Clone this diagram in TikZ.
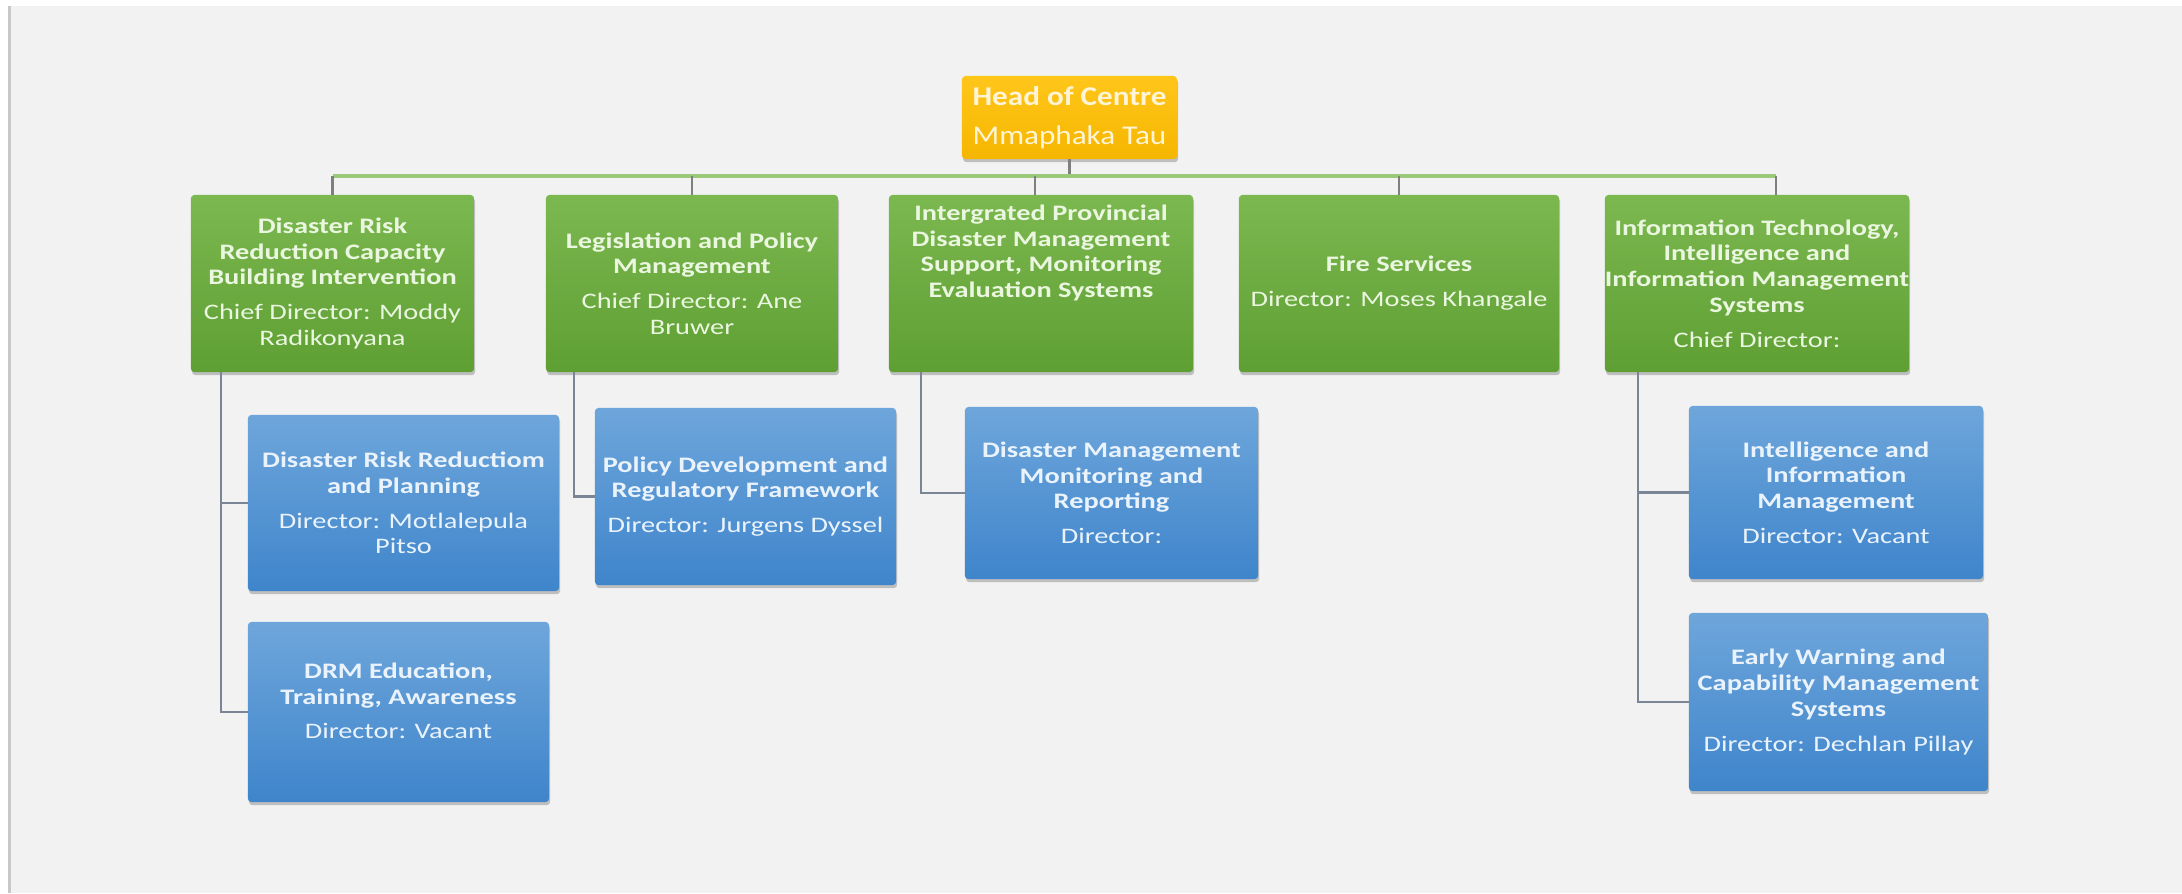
\documentclass[tikz,border=0pt]{standalone}
\usepackage{fontspec}
\setmainfont{Carlito}
\newfontfamily\boxfont{Carlito}[FakeStretch=1.28]
\newfontfamily\headfont{Carlito}[FakeStretch=1.15]
\usetikzlibrary{shadows}
\definecolor{paper}{HTML}{F2F2F2}
\definecolor{frame}{HTML}{C8C8C8}
\definecolor{greentop}{HTML}{7CB850}
\definecolor{greenbot}{HTML}{5E9F33}
\definecolor{greentext}{HTML}{EAF6DF}
\definecolor{bluetop}{HTML}{6EA6DB}
\definecolor{bluebot}{HTML}{3F85CB}
\definecolor{bluetext}{HTML}{EAF3FC}
\definecolor{headtop}{HTML}{FFC61A}
\definecolor{headbot}{HTML}{F5B600}
\definecolor{headtext}{HTML}{FFF5D6}
\definecolor{busgreen}{HTML}{9BC97A}
\definecolor{stubgrey}{HTML}{7F7F7F}
\definecolor{branchgrey}{HTML}{7A8696}
\newcommand{\staff}[1]{{\mdseries #1}}
\tikzset{
	box/.style={rounded corners=1pt, align=center, inner sep=0pt, outer sep=0pt,
		drop shadow={shadow xshift=0.3pt, shadow yshift=-0.9pt, opacity=0.45, fill=black!50}},
	headbox/.style={box, top color=headtop, bottom color=headbot, text=headtext,
		font=\headfont\fontsize{7.7}{11}\selectfont\bfseries},
	unitbox/.style={box, top color=greentop, bottom color=greenbot, text=greentext,
		font=\boxfont\fontsize{6.3}{7.3}\selectfont\bfseries, minimum height=1.77cm},
	subbox/.style={box, top color=bluetop, bottom color=bluebot, text=bluetext,
		font=\boxfont\fontsize{6.3}{7.3}\selectfont\bfseries},
	bus/.style={draw=busgreen, line width=0.9pt},
	stub/.style={draw=stubgrey, line width=0.8pt},
	branch/.style={draw=branchgrey, line width=0.8pt},
}
\begin{document}
\begin{tikzpicture}[x=0.01cm, y=-0.01cm]
	\useasboundingbox (0,0) rectangle (2182,893);
	%background
	\fill[white] (0,0) rectangle (2182,893);
	\fill[paper] (10,6) rectangle (2182,893);
	\draw[frame, line width=0.8pt] (9.5,6) -- (9.5,893);

	%HEAD
	\node[headbox, minimum width=2.15cm, minimum height=0.83cm] (head) at (1069.5,117.5)
		{Head of Centre\\ \staff{Mmaphaka Tau}};

	%CHIEF DIRECTORATES
	\node[unitbox, minimum width=2.83cm] (g1) at (332.5,283.5)
		{Disaster Risk\\ Reduction Capacity\\ Building Intervention\\[2.6pt]
		 \staff{Chief Director: Moddy}\\ \staff{Radikonyana}};
	\node[unitbox, minimum width=2.92cm] (g2) at (692,283.5)
		{Legislation and Policy\\ Management\\[2.6pt]
		 \staff{Chief Director: Ane}\\ \staff{Bruwer}};
	\node[unitbox, minimum width=3.04cm] (g3) at (1041,283.5)
		{Intergrated Provincial\\ Disaster Management\\ Support, Monitoring\\ Evaluation Systems\\[11pt] \mbox{}};
	\node[unitbox, minimum width=3.20cm] (g4) at (1399,283.5)
		{Fire Services\\[2.6pt] \staff{Director: Moses Khangale}};
	\node[unitbox, minimum width=3.04cm] (g5) at (1757,283.5)
		{Information Technology,\\ Intelligence and\\ Information Management\\ Systems\\[2.6pt]
		 \staff{Chief Director:}};

	%DIRECTORATES
	\node[subbox, minimum width=3.11cm, minimum height=1.76cm] (b1) at (403.5,503)
		{Disaster Risk Reductiom\\ and Planning\\[2.6pt]
		 \staff{Director: Motlalepula}\\ \staff{Pitso}};
	\node[subbox, minimum width=3.01cm, minimum height=1.80cm] (b2) at (398.5,712)
		{DRM Education,\\ Training, Awareness\\[2.6pt] \staff{Director: Vacant}\\[-1pt] \mbox{}};
	\node[subbox, minimum width=3.01cm, minimum height=1.77cm] (b3) at (745.5,496.5)
		{Policy Development and\\ Regulatory Framework\\[2.6pt] \staff{Director: Jurgens Dyssel}};
	\node[subbox, minimum width=2.93cm, minimum height=1.72cm] (b4) at (1111.5,493)
		{Disaster Management\\ Monitoring and\\ Reporting\\[2.6pt] \staff{Director:}};
	\node[subbox, minimum width=2.94cm, minimum height=1.73cm] (b5) at (1836,492.5)
		{Intelligence and\\ Information\\ Management\\[2.6pt] \staff{Director: Vacant}};
	\node[subbox, minimum width=2.99cm, minimum height=1.78cm] (b6) at (1838.5,702)
		{Early Warning and\\ Capability Management\\ Systems\\[2.6pt] \staff{Director: Dechlan Pillay}};

	%LINKS
	\coordinate (bus) at (1069.5,176);
	\coordinate (d3) at (1035,176);
	\coordinate (d5) at (1776,176);
	\draw[stub] (head.south) -- (head.south |- bus);
	\draw[bus] (g1.north |- bus) -- (d5);
	\foreach \u in {g1,g2,g4}
		\draw[stub] (\u.north |- bus) -- (\u.north);
	\draw[stub] (d3) -- (d3 |- g3.north);
	\draw[stub] (d5) -- (d5 |- g5.north);

	\coordinate (t1) at (221,372);
	\coordinate (t2) at (574,372);
	\coordinate (t3) at (921,372);
	\coordinate (t5) at (1638,372);
	\draw[branch] (t1) |- (b1.west);
	\draw[branch] (t1) |- (b2.west);
	\draw[branch] (t2) |- (b3.west);
	\draw[branch] (t3) |- (b4.west);
	\draw[branch] (t5) |- (b5.west);
	\draw[branch] (t5) |- (b6.west);
\end{tikzpicture}
\end{document}
